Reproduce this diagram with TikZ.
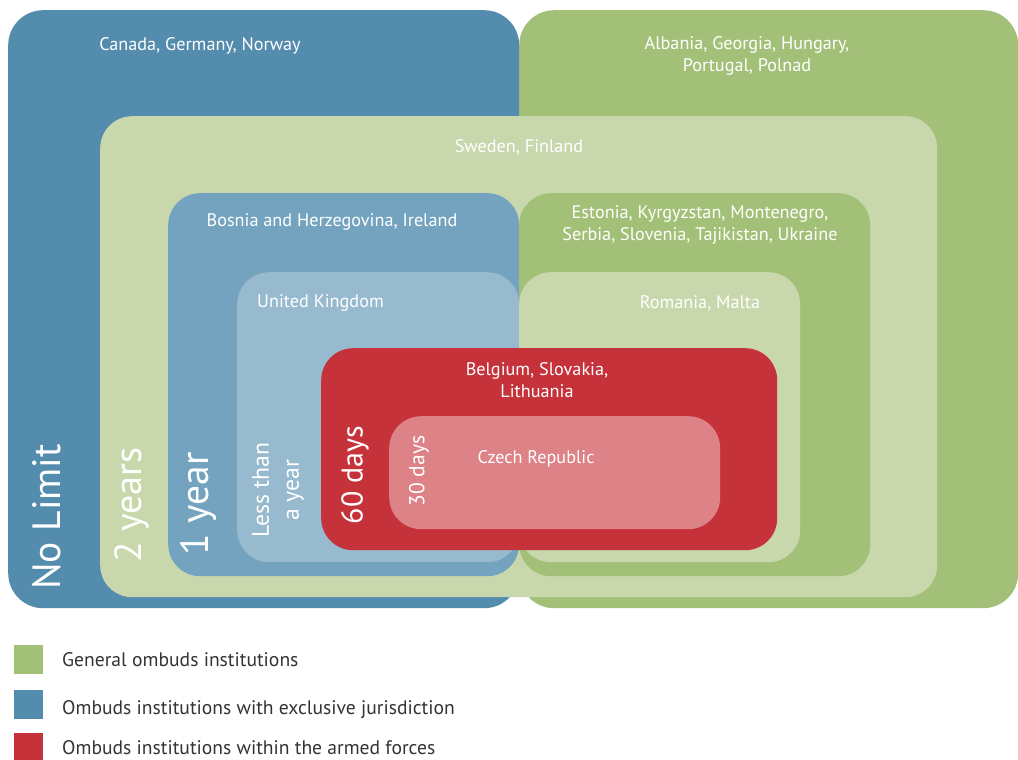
\documentclass[tikz,border=0pt]{standalone}
\usepackage{fontspec}
\setmainfont{PT Sans}
\begin{document}
\begin{tikzpicture}[x=1pt,y=-1pt,
  region/.style={anchor=north west,inner sep=0pt,draw=none,rounded corners=#1},
  region/.default=32pt,
  lbl/.style={text=white,inner sep=0pt,font=\fontsize{18.2}{22}\selectfont,align=center},
  vlbl/.style={text=white,inner sep=0pt,rotate=90,align=center},
  swatch/.style={anchor=north west,inner sep=0pt,minimum width=29pt,minimum height=29pt},
  legtext/.style={anchor=base west,inner sep=0pt,text=legtxt,font=\fontsize{19.6}{22}\selectfont}]
\definecolor{bigblue}{HTML}{548CAE}
\definecolor{biggreen}{HTML}{A3C078}
\definecolor{palegreen}{HTML}{C8D8AC}
\definecolor{midblue}{HTML}{73A3BE}
\definecolor{paleblue}{HTML}{97BACE}
\definecolor{armyred}{HTML}{C53239}
\definecolor{pink}{HTML}{DD8286}
\definecolor{legtxt}{HTML}{333333}

\useasboundingbox (0,0) rectangle (1018,760);

% outer regions
\node[region=35pt,fill=biggreen,minimum width=499pt,minimum height=598pt] (general) at (519,10) {};
\node[region=35pt,fill=bigblue,minimum width=511pt,minimum height=598pt] (exclusive) at (8,10) {};
% two years
\node[region=32pt,fill=palegreen,minimum width=837pt,minimum height=481pt] (twoyears) at (100,116) {};
% one year
\node[region=32pt,fill=midblue,minimum width=351pt,minimum height=383pt] (oneyearA) at (168,193) {};
\node[region=32pt,fill=biggreen,minimum width=351pt,minimum height=383pt] (oneyearB) at (519,193) {};
% less than a year
\node[region=32pt,fill=paleblue,minimum width=282pt,minimum height=290pt] (lessA) at (237,272) {};
\node[region=32pt,fill=palegreen,minimum width=281pt,minimum height=290pt] (lessB) at (519,272) {};
% armed forces
\node[region=32pt,fill=armyred,minimum width=456pt,minimum height=202pt] (sixty) at (321,348) {};
\node[region=32pt,fill=pink,minimum width=331pt,minimum height=113pt] (thirty) at (389,416) {};

% country lists
\node[lbl] (tCanada) at (200,46) {Canada, Germany, Norway};
\node[lbl] (tAlbania) at (747,56) {Albania, Georgia, Hungary,\\Portugal, Polnad};
\node[lbl] (tSweden) at (519,147) {Sweden, Finland};
\node[lbl] (tBosnia) at (332,222) {Bosnia and Herzegovina, Ireland};
\node[lbl] (tEstonia) at (700,225) {Estonia, Kyrgyzstan, Montenegro,\\Serbia, Slovenia, Tajikistan, Ukraine};
\node[lbl,anchor=west] (tUK) at (257,303) {United Kingdom};
\node[lbl] (tRomania) at (700,303) {Romania, Malta};
\node[lbl] (tBelgium) at (537,380) {Belgium, Slovakia,\\Lithuania};
\node[lbl] (tCzech) at (536,459) {Czech Republic};

% time limits
\node[vlbl,font=\fontsize{39.5}{44}\selectfont] (tNoLimit) at (47,517) {No Limit};
\node[vlbl,font=\fontsize{38}{40}\selectfont] (tTwo) at (132,505) {2 years};
\node[vlbl,font=\fontsize{39.5}{40}\selectfont] (tOne) at (198,504) {1 year};
\node[vlbl,font=\fontsize{23.7}{30}\selectfont] (tLess) at (278,490) {Less than\\a year};
\node[vlbl,font=\fontsize{30}{32}\selectfont] (tSixty) at (355,475) {60 days};
\node[vlbl,font=\fontsize{21.6}{24}\selectfont] (tThirty) at (419,471) {30 days};

% legend
\node[swatch,fill=biggreen] (kGreen) at (14,645) {};
\node[swatch,fill=bigblue] (kBlue) at (14,690) {};
\node[swatch,fill=armyred] (kRed) at (14,733) {};
\node[legtext] (lGreen) at (62,666) {General ombuds institutions};
\node[legtext] (lBlue) at (62,714) {Ombuds institutions with exclusive jurisdiction};
\node[legtext] (lRed) at (62,754) {Ombuds institutions within the armed forces};
\end{tikzpicture}
\end{document}
